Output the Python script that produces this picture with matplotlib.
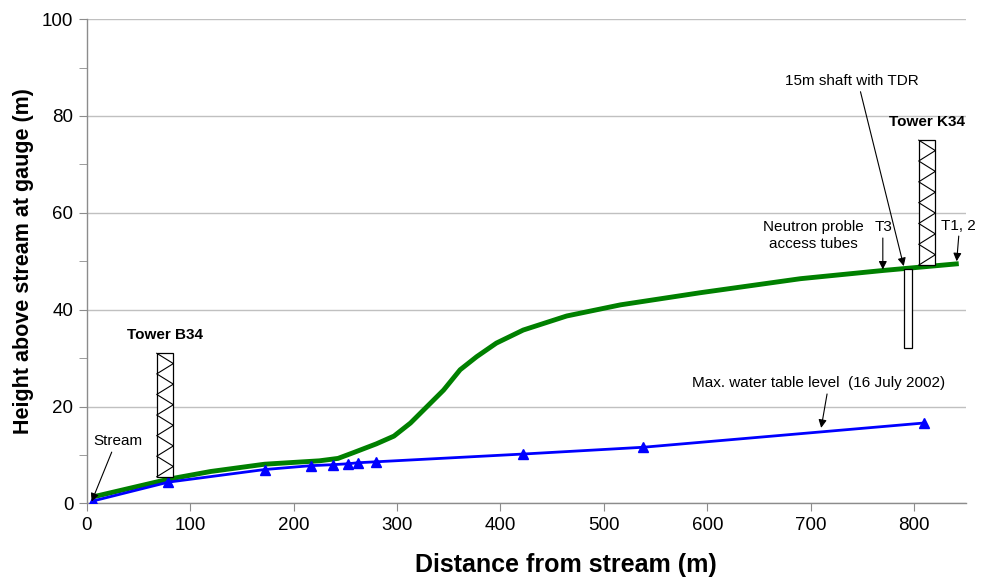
import matplotlib
matplotlib.use('Agg')
import matplotlib.pyplot as plt
from matplotlib.patches import Rectangle

import numpy as np

# ground surface profile (green) and max water table (blue)
ground_x = [5, 79, 120, 172, 225, 243, 258, 280, 297, 313, 329, 345, 361,
            377, 396, 422, 464, 516, 593, 690, 770, 843]
ground_y = [1.3, 5.0, 6.6, 8.1, 8.8, 9.3, 10.5, 12.3, 13.9, 16.6, 20.0, 23.4,
            27.6, 30.3, 33.1, 35.8, 38.7, 41.0, 43.5, 46.4, 48.1, 49.5]

water_x = [6, 79, 172, 217, 238, 253, 262, 280, 422, 538, 809]
water_y = [0.5, 4.4, 7.0, 7.8, 8.0, 8.2, 8.4, 8.6, 10.2, 11.6, 16.6]

x_ticks = [0, 100, 200, 300, 400, 500, 600, 700, 800]
y_ticks = [0, 20, 40, 60, 80, 100]

# towers: name, left, right, bottom, top
towers = [("Tower B34", 67.7, 83.8, 5.5, 31.0),
          ("Tower K34", 804.3, 820.4, 49.2, 75.0)]
# 15 m shaft
shaft = (790.5, 798.0, 32.0, 48.5)

FONT = ['Liberation Sans', 'DejaVu Sans']
GRAY = '#8c8c8c'


def draw_tower(ax, name, x0, x1, y0, y1):
    ax.add_patch(Rectangle((x0, y0), x1 - x0, y1 - y0, fill=True,
                           facecolor='white', edgecolor='black', lw=0.9, zorder=4))
    n = 12
    ys = np.linspace(y1, y0, n + 1)
    xs = [x0 if i % 2 == 0 else x1 for i in range(n + 1)]
    ax.plot(xs, ys, color='black', lw=0.8, zorder=5)
    ax.text((x0 + x1) / 2, y1 + 2.3, name, ha='center', va='bottom',
            fontsize=11, fontweight='bold', family=FONT)


def arrow(ax, text_xy, tip_xy):
    ax.annotate('', xy=tip_xy, xytext=text_xy,
                arrowprops=dict(arrowstyle='-|>', color='black', lw=0.8,
                                mutation_scale=12, shrinkA=0, shrinkB=0),
                zorder=6)


def main():
    fig = plt.figure(figsize=(9.84, 5.78), dpi=100)
    ax = fig.add_axes([0.0881, 0.129, 0.8936, 0.838])

    ax.plot(ground_x, ground_y, color='#008000', lw=3.5, zorder=3,
            solid_capstyle='butt')
    ax.plot(water_x, water_y, color='#0000ff', lw=2.0, marker='^',
            markersize=6.5, zorder=3)

    for name, x0, x1, y0, y1 in towers:
        draw_tower(ax, name, x0, x1, y0, y1)

    sx0, sx1, sy0, sy1 = shaft
    ax.add_patch(Rectangle((sx0, sy0), sx1 - sx0, sy1 - sy0, facecolor='white',
                           edgecolor='black', lw=0.9, zorder=4))

    tfs = 11
    ax.text(30.6, 12.8, "Stream", ha='center', va='center', fontsize=tfs, family=FONT)
    arrow(ax, (24.2, 10.6), (4.8, 0.4))

    ax.text(740, 87.2, "15m shaft with TDR", ha='center', va='center',
            fontsize=tfs, family=FONT)
    arrow(ax, (748, 85.0), (789.8, 49.0))

    ax.text(702, 55.3, "Neutron proble\naccess tubes", ha='center', va='center',
            fontsize=tfs, family=FONT, linespacing=1.25)
    ax.text(770, 57.0, "T3", ha='center', va='center', fontsize=tfs, family=FONT)
    arrow(ax, (769.6, 54.8), (769.6, 48.3))

    ax.text(843, 57.2, "T1, 2", ha='center', va='center', fontsize=tfs, family=FONT)
    arrow(ax, (843, 55.2), (841, 50.0))

    ax.text(585, 24.8, "Max. water table level  (16 July 2002)", ha='left',
            va='center', fontsize=tfs, family=FONT)
    arrow(ax, (715.7, 22.6), (710, 15.6))

    ax.set_xlim(0, 850)
    ax.set_ylim(0, 100)
    ax.set_xticks(x_ticks)
    ax.set_yticks(y_ticks)
    ax.set_yticks(np.arange(10, 100, 20), minor=True)

    ax.grid(axis='y', color='#c0c0c0', lw=1.0)
    ax.set_axisbelow(True)
    for side in ('top', 'right'):
        ax.spines[side].set_visible(False)
    for side in ('left', 'bottom'):
        ax.spines[side].set_color(GRAY)
        ax.spines[side].set_linewidth(1.0)

    ax.tick_params(axis='both', which='both', direction='out', color=GRAY,
                   labelsize=13.5)
    ax.tick_params(axis='both', which='major', length=6)
    ax.tick_params(axis='y', which='minor', length=6)
    for lab in ax.get_xticklabels() + ax.get_yticklabels():
        lab.set_family(FONT)

    ax.set_xlabel("Distance from stream (m)", fontsize=18, fontweight='bold',
                  family=FONT)
    ax.set_ylabel("Height above stream at gauge (m)", fontsize=15.5,
                  fontweight='bold', family=FONT)
    ax.xaxis.set_label_coords(0.545, -0.103)
    ax.yaxis.set_label_coords(-0.06, 0.5)

    fig.savefig("out.png", dpi=100)


if __name__ == "__main__":
    main()
